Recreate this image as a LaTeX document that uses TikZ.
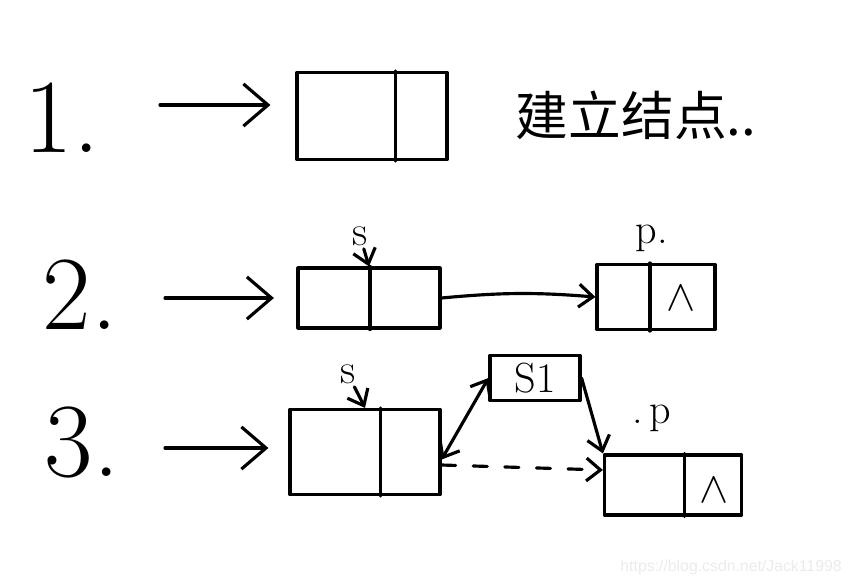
\documentclass[tikz,border=0pt]{standalone}
\usepackage{fontspec}
\newfontfamily\cjk{Noto Sans CJK SC}
\newfontfamily\wmfont{Liberation Sans}
\usetikzlibrary{positioning,calc,arrows.meta}
\tikzset{font=\small}

\begin{document}
\begin{tikzpicture}[x=0.02cm, y=-0.02cm, line width=1.8pt, line cap=round, line join=round]
	\tikzstyle{every node}=[align=center, inner sep=1pt]
	\tikzstyle{cell}=[draw, line width=1.8pt, inner sep=0pt]
	\tikzstyle{big}=[font=\fontsize{60}{60}\selectfont]
	\tikzstyle{lbl}=[font=\fontsize{24}{24}\selectfont]
	\tikzstyle{entry}=[-{Straight Barb[length=14pt,width=24pt]}]
	\tikzstyle{link}=[-{Straight Barb[length=8pt,width=13pt]}]
	\useasboundingbox (0,0) rectangle (852,586);

	% step numbers
	\node[big] (one) at (62,118) {1.};
	\node[big] (two) at (80,295) {2.};
	\node[big] (three) at (82,442) {3.};

	% step 1
	\node[cell, minimum width=3cm, minimum height=1.74cm] (box1) at (372,116) {};
	\draw ($(box1.north west)!0.653!(box1.north east)$) -- ($(box1.south west)!0.653!(box1.south east)$);
	\node[font=\cjk\fontsize{30}{30}\selectfont] (title) at (636,115) {建立结点..};
	\coordinate (in1) at (160,105);
	\draw [entry, shorten >=0.5cm] (in1) -- (in1 -| box1.west);

	% step 2
	\node[cell, minimum width=2.84cm, minimum height=1.2cm] (box2) at (369,298) {};
	\draw ($(box2.north west)!0.507!(box2.north east)$) -- ($(box2.south west)!0.507!(box2.south east)$);
	\node[cell, minimum width=2.36cm, minimum height=1.3cm] (pbox2) at (656,297) {};
	\draw ($(pbox2.north west)!0.45!(pbox2.north east)$) -- ($(pbox2.south west)!0.45!(pbox2.south east)$);
	\node[lbl] (nil2) at (681,298) {$\wedge$};
	\node[lbl] (s2) at (360,236) {s};
	\node[lbl] (p2) at (652,238) {p.};
	\coordinate (in2) at (165,298);
	\draw [entry, shorten >=0.45cm] (in2) -- (box2.west);
	\draw [link] (s2) -- (box2.north);
	\draw [link] (box2.east) to[bend left=5] (pbox2.west);

	% step 3
	\node[cell, minimum width=3cm, minimum height=1.7cm] (box3) at (365,452) {};
	\draw ($(box3.north west)!0.6!(box3.north east)$) -- ($(box3.south west)!0.6!(box3.south east)$);
	\node[cell, minimum width=1.8cm, minimum height=0.9cm, lbl] (s1) at (535,378) {S1};
	\node[cell, minimum width=2.74cm, minimum height=1.2cm] (pbox3) at (673,485) {};
	\draw ($(pbox3.north west)!0.584!(pbox3.north east)$) -- ($(pbox3.south west)!0.584!(pbox3.south east)$);
	\node[lbl] (nil3) at (714,490) {$\wedge$};
	\node[lbl] (s3) at (348,374) {s};
	\node[lbl] (p3) at (652,418) {.\,p};
	\coordinate (in3) at (165,448);
	\draw [entry, shorten >=0.4cm] (in3) -- (in3 -| box3.west);
	\draw [link] (s3) -- (box3.north);
	\draw [{Straight Barb[length=8pt,width=13pt]}-{Straight Barb[length=8pt,width=13pt]}] ([yshift=-0.15cm]box3.east) -- (s1.west);
	\draw [link] (s1.east) -- (pbox3.north west);
	\draw [link, dashed, dash pattern=on 8pt off 10pt] ([yshift=-0.26cm]box3.east) -- ([yshift=0.3cm]pbox3.west);

	% watermark
	\node[anchor=east, text=black!8, font=\wmfont\fontsize{9}{9}\selectfont] (wm) at (845,567) {https://blog.csdn.net/Jack11998};
\end{tikzpicture}
\end{document}
